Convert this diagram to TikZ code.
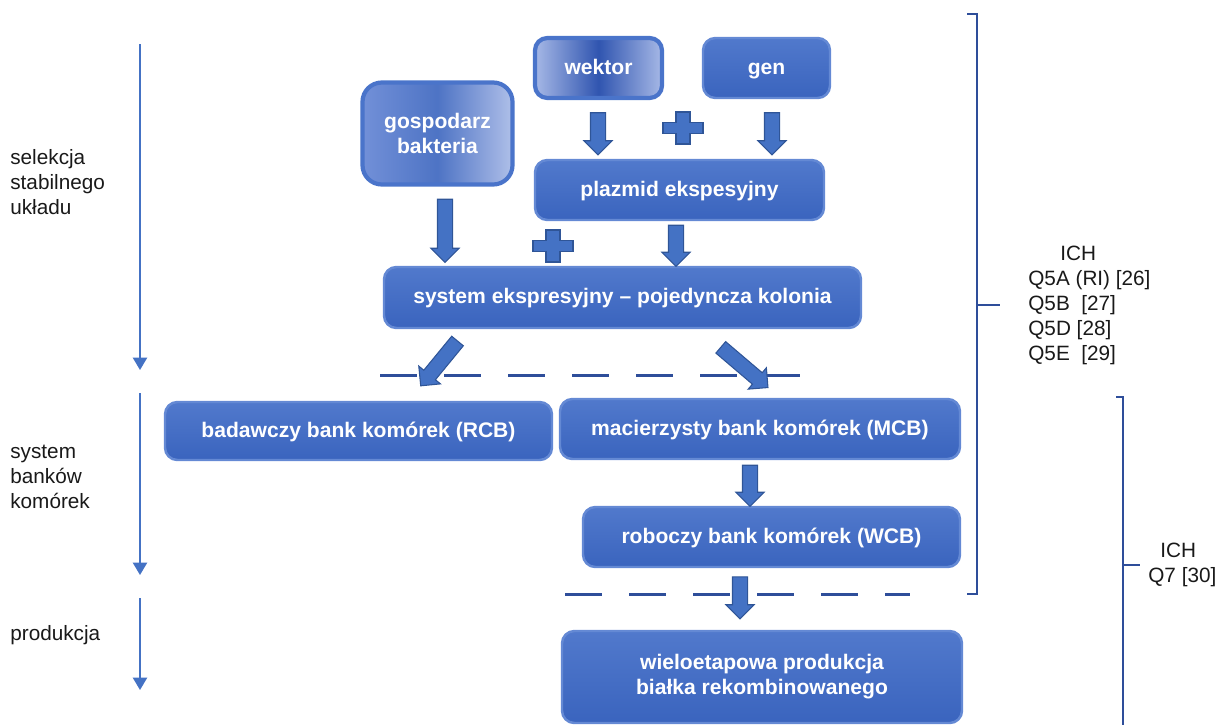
\documentclass[tikz,border=0pt]{standalone}
\usepackage{fontspec}
\setmainfont{Liberation Sans}
\usetikzlibrary{calc,shapes.arrows,arrows.meta}
\definecolor{BoxTopClr}{HTML}{5179CC}
\definecolor{BoxBotClr}{HTML}{3A64BE}
\definecolor{RimClr}{HTML}{6489D4}
\definecolor{GradRimClr}{HTML}{4A74CA}
\definecolor{GradLight}{HTML}{A6B8E6}
\definecolor{GradMid}{HTML}{7290D8}
\definecolor{GradDark}{HTML}{3055B0}
\definecolor{ArrClr}{HTML}{4472C4}
\definecolor{ArrEdgeClr}{HTML}{2F5597}
\definecolor{LineClr}{HTML}{2E4E9A}

\begin{document}
\begin{tikzpicture}[
  box/.style={draw=RimClr,line width=1.4pt,rounded corners=7pt,top color=BoxTopClr,bottom color=BoxBotClr,
    text=white,font=\bfseries\fontsize{12}{14.2}\selectfont,align=center,inner sep=0pt},
  oneline/.style={text height=1.75ex,text depth=0.45ex},
  gradbox/.style={box,draw=GradRimClr,line width=2.4pt,left color=GradLight,right color=GradLight,middle color=GradDark},
  blockarr/.style={single arrow,draw=ArrEdgeClr,fill=ArrClr,line width=0.6pt,inner xsep=0pt,inner ysep=0.14cm,
    single arrow head extend=0.13cm},
  sidearr/.style={draw=ArrClr,line width=1.1pt,-{Triangle[length=7pt,width=8pt]}},
  sidetext/.style={font=\fontsize{11.8}{14.2}\selectfont,align=left,anchor=west,inner sep=0pt,text=black!90},
  sepline/.style={draw=LineClr,line width=1.7pt,dash pattern=on 0.74cm off 0.54cm},
  bracket/.style={draw=LineClr,line width=1.2pt},
  plussign/.pic={\filldraw[draw=ArrEdgeClr,fill=ArrClr,line width=0.6pt]
    (-0.4,-0.11) -- (-0.14,-0.11) -- (-0.14,-0.32) -- (0.14,-0.32) -- (0.14,-0.11) -- (0.4,-0.11)
    -- (0.4,0.11) -- (0.14,0.11) -- (0.14,0.32) -- (-0.14,0.32) -- (-0.14,0.11) -- (-0.4,0.11) -- cycle;}
]
\useasboundingbox (0,0) rectangle (24.36,-14.48);

% boxes
\node[gradbox,oneline,minimum width=2.54cm,minimum height=1.2cm] (wektor) at (11.97,-1.36) {wektor};
\node[box,oneline,minimum width=2.54cm,minimum height=1.2cm] (gen) at (15.33,-1.36) {gen};
\node[gradbox,left color=GradMid,right color=GradLight!90!white,middle color=BoxBotClr!90!white,
  rounded corners=11pt,minimum width=3.0cm,minimum height=2.04cm] (gosp) at (8.75,-2.67) {gospodarz\\bakteria};
\node[box,oneline,minimum width=5.78cm,minimum height=1.2cm] (plazmid) at (13.59,-3.8) {plazmid ekspesyjny};
\node[box,oneline,minimum width=9.54cm,minimum height=1.22cm] (system) at (12.45,-5.95) {system ekspresyjny -- pojedyncza kolonia};
\node[box,oneline,minimum width=7.74cm,minimum height=1.16cm] (rcb) at (7.17,-8.62) {badawczy bank komórek (RCB)};
\node[box,oneline,minimum width=8.0cm,minimum height=1.2cm] (mcb) at (15.2,-8.58) {macierzysty bank komórek (MCB)};
\node[box,oneline,minimum width=7.54cm,minimum height=1.2cm] (wcb) at (15.43,-10.74) {roboczy bank komórek (WCB)};
\node[box,minimum width=8.0cm,minimum height=1.84cm] (prod) at (15.24,-13.54) {wieloetapowa produkcja\\białka rekombinowanego};

% separators
\draw[sepline] (7.6,-7.5) -- (16.0,-7.5);
\draw[sepline] (11.3,-11.88) -- (18.2,-11.88);

% block arrows
\node[blockarr,minimum height=0.84cm,rotate=-90] (arrW) at (11.96,-2.6) {};
\node[blockarr,minimum height=0.84cm,rotate=-90] (arrG) at (15.44,-2.6) {};
\node[blockarr,minimum height=1.26cm,rotate=-90] (arrH) at (8.9,-4.54) {};
\node[blockarr,minimum height=0.82cm,rotate=-90] (arrP) at (13.52,-4.84) {};
\node[blockarr,minimum height=1.16cm,rotate=230.6] (arrL) at (8.83,-7.21) {};
\node[blockarr,minimum height=1.24cm,rotate=-40.4] (arrR) at (14.83,-7.3) {};
\node[blockarr,minimum height=0.82cm,rotate=-90] (arrM) at (15.0,-9.64) {};
\node[blockarr,minimum height=0.84cm,rotate=-90] (arrC) at (14.8,-11.88) {};
\pic at (13.66,-2.56) {plussign};
\pic at (11.06,-4.92) {plussign};

% stages
\coordinate (s1) at (2.8,-0.88);  \coordinate (e1) at (2.8,-7.4);
\coordinate (s2) at (2.8,-7.86);  \coordinate (e2) at (2.8,-11.5);
\coordinate (s3) at (2.8,-11.96); \coordinate (e3) at (2.8,-13.8);
\draw[sidearr] (s1) -- (e1);
\draw[sidearr] (s2) -- (e2);
\draw[sidearr] (s3) -- (e3);
\node[sidetext] (stage1) at (0.2,-3.64) {selekcja\\stabilnego\\układu};
\node[sidetext] (stage2) at (0.2,-9.54) {system\\banków\\komórek};
\node[sidetext] (stage3) at (0.2,-12.7) {produkcja};

% guidelines
\draw[bracket] (19.34,-0.28) -- (19.54,-0.28) -- (19.54,-11.88) -- (19.34,-11.88);
\draw[bracket] (19.54,-6.1) -- (20.0,-6.1);
\node[sidetext] (ich1) at (20.56,-6.11) {\hspace*{0.64cm}ICH\\Q5A (RI) [26]\\Q5B~ [27]\\Q5D [28]\\Q5E~ [29]};
\draw[bracket] (22.32,-7.94) -- (22.46,-7.94) -- (22.46,-14.6);
\draw[bracket] (22.46,-11.3) -- (22.8,-11.3);
\node[sidetext] (ich2) at (22.96,-11.29) {\hspace*{0.24cm}ICH\\Q7 [30]};
\end{tikzpicture}
\end{document}
